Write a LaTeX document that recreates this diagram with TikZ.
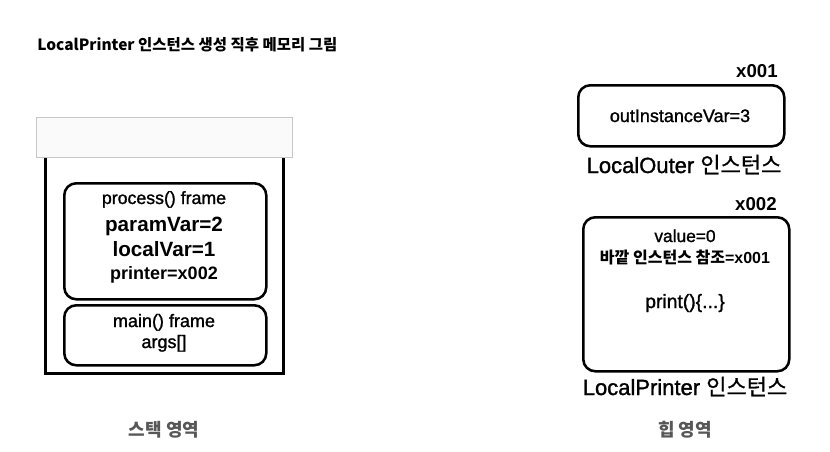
\documentclass[tikz,border=0pt]{standalone}
\usepackage{fontspec}
\setmainfont{Liberation Sans}
\newfontfamily\med[FakeBold=1.3]{Liberation Sans}
\newfontfamily\kr{Noto Sans CJK KR}
\newfontfamily\krmed[FakeBold=1.0]{Noto Sans CJK KR}
\begin{document}
\begin{tikzpicture}[x=0.75pt,y=-0.75pt,
  frame/.style={draw=black,line width=1.9pt,rounded corners=9pt,inner sep=0pt},
  wall/.style={draw=black,line width=2.25pt},
  txt/.style={anchor=base,inner sep=0pt,text=black},
  lbl/.style={anchor=base,inner sep=0pt,text=black!66,font=\kr\bfseries\fontsize{13.5pt}{15pt}\selectfont}]
\useasboundingbox (0,0) rectangle (830,451);
% title
\node[anchor=base west,inner sep=0pt,font=\kr\bfseries\fontsize{11.6pt}{13pt}\selectfont] (title) at (37,50) {LocalPrinter 인스턴스 생성 직후 메모리 그림};
% stack
\node[draw=black!22,fill=black!2,line width=0.8pt,minimum width=256*0.75pt,minimum height=40*0.75pt,inner sep=0pt,anchor=north west] (lid) at (36,117) {};
\coordinate (sTL) at (45,158);
\coordinate (sBL) at (45,373);
\coordinate (sBR) at (283,373);
\coordinate (sTR) at (283,158);
\draw[wall] (sTL) -- (sBL) -- (sBR) -- (sTR);
\node[frame,minimum width=202*0.75pt,minimum height=116*0.75pt,anchor=north west] (proc) at (63,182) {};
\node[frame,minimum width=202*0.75pt,minimum height=60*0.75pt,anchor=north west] (main) at (63,304) {};
\node[txt,font=\med\fontsize{13.3pt}{15pt}\selectfont] (p1) at (164,204) {process() frame};
\node[txt,font=\bfseries\fontsize{15.5pt}{17pt}\selectfont] (p2) at (164,231) {paramVar=2};
\node[txt,font=\bfseries\fontsize{15.5pt}{17pt}\selectfont] (p3) at (164,256) {localVar=1};
\node[txt,font=\bfseries\fontsize{13.5pt}{15pt}\selectfont] (p4) at (164,279) {printer=x002};
\node[txt,font=\med\fontsize{13.5pt}{15pt}\selectfont] (m1) at (164,327) {main() frame};
\node[txt,font=\med\fontsize{13.5pt}{15pt}\selectfont] (m2) at (164,348) {args[]};
\node[lbl] (stk) at (164,436) {스택 영역};
% heap
\node[anchor=base east,inner sep=0pt,font=\bfseries\fontsize{14pt}{16pt}\selectfont] (a1) at (778,77) {x001};
\node[frame,minimum width=206*0.75pt,minimum height=61*0.75pt,anchor=north west] (outer) at (577,84) {};
\node[txt,font=\med\fontsize{13.5pt}{15pt}\selectfont] (o1) at (680,122) {outInstanceVar=3};
\node[txt,font=\med\fontsize{16.5pt}{18pt}\selectfont] (o2) at (684,173) {LocalOuter {\krmed 인스턴스}};
\node[anchor=base east,inner sep=0pt,font=\bfseries\fontsize{14pt}{16pt}\selectfont] (a2) at (777,210) {x002};
\node[frame,minimum width=206*0.75pt,minimum height=154*0.75pt,anchor=north west] (printer) at (582,216) {};
\node[txt,font=\med\fontsize{13pt}{15pt}\selectfont] (l1) at (685,242) {value=0};
\node[txt,font=\bfseries\fontsize{12pt}{14pt}\selectfont] (l2) at (685,263) {{\kr 바깥 인스턴스 참조}=x001};
\node[txt,font=\med\fontsize{14.5pt}{16pt}\selectfont] (l3) at (685,308) {print()\{...\}};
\node[txt,font=\med\fontsize{16.5pt}{18pt}\selectfont] (l4) at (685,395) {LocalPrinter {\krmed 인스턴스}};
\node[lbl] (heap) at (685,436) {힙 영역};
\end{tikzpicture}
\end{document}
